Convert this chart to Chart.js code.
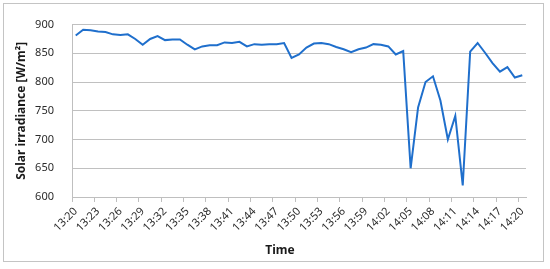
<!DOCTYPE html>
<html>
<head>
<meta charset="utf-8">
<script src="https://cdn.jsdelivr.net/npm/chart.js@4"></script>
<style>
  html, body { margin: 0; padding: 0; background: #fff; }
  #wrap { width: 550px; height: 269px; position: relative; }
</style>
</head>
<body>
<div id="wrap"><canvas id="myChart"></canvas></div>
<script>
// one reading per minute, 13:20 .. 14:20
const times = [
    '13:20','13:21','13:22','13:23','13:24','13:25','13:26','13:27','13:28','13:29',
    '13:30','13:31','13:32','13:33','13:34','13:35','13:36','13:37','13:38','13:39',
    '13:40','13:41','13:42','13:43','13:44','13:45','13:46','13:47','13:48','13:49',
    '13:50','13:51','13:52','13:53','13:54','13:55','13:56','13:57','13:58','13:59',
    '14:00','14:01','14:02','14:03','14:04','14:05','14:06','14:07','14:08','14:09',
    '14:10','14:11','14:12','14:13','14:14','14:15','14:16','14:17','14:18','14:19',
    '14:20'
];
const irradiance = [
    881, 891, 890, 888, 887, 883, 882, 883, 875, 865,
    875, 880, 873, 874, 874, 865, 857, 862, 864, 864,
    869, 868, 870, 862, 866, 865, 866, 866, 868, 842,
    848, 860, 867, 868, 866, 861, 857, 852, 857, 860,
    866, 865, 862, 848, 854, 650, 756, 800, 810, 768,
    700, 741, 620, 853, 868, 851, 833, 818, 826, 808,
    812
];
const yTicks = [600, 650, 700, 750, 800, 850, 900];
const labelEvery = 3;

const frameAndTitle = {
    id: 'frameAndTitle',
    beforeDraw(chart) {
        const ctx = chart.ctx;
        ctx.save();
        ctx.fillStyle = '#fff';
        ctx.fillRect(0, 0, chart.width, chart.height);
        ctx.strokeStyle = '#c4c4c4';
        ctx.lineWidth = 1;
        ctx.strokeRect(3.5, 3.5, 540, 258);
        ctx.restore();
    },
    afterDraw(chart) {
        const ctx = chart.ctx;
        ctx.save();
        ctx.fillStyle = '#1a1a1a';
        ctx.font = 'bold 12px "Noto Sans"';
        ctx.textAlign = 'center';
        ctx.textBaseline = 'middle';
        ctx.fillText('Time', 280, 251);
        ctx.restore();
    }
};

const data = {
    labels: times,
    datasets: [{
        label: 'Solar irradiance',
        data: irradiance,
        borderColor: '#1f6fcc',
        backgroundColor: '#1f6fcc',
        borderWidth: 2,
        pointRadius: 0,
        tension: 0,
        fill: false
    }]
};

const config = {
    type: 'line',
    data: data,
    options: {
        responsive: true,
        maintainAspectRatio: false,
        animation: false,
        layout: { padding: { left: 0, top: 24, right: 24, bottom: 0 } },
        plugins: {
            legend: { display: false },
            tooltip: { enabled: false }
        },
        scales: {
            x: {
                type: 'category',
                offset: true,
                afterFit: function(scale) { scale.height = 72; },
                border: { display: true, color: '#bfbfbf', width: 1 },
                grid: {
                    offset: true,
                    drawOnChartArea: false,
                    drawTicks: true,
                    tickLength: 5,
                    color: function(c) {
                        return (c.index % labelEvery === 0 && c.index < times.length) ? '#bfbfbf' : 'rgba(0,0,0,0)';
                    }
                },
                ticks: {
                    autoSkip: false,
                    minRotation: 45,
                    maxRotation: 45,
                    padding: 3,
                    color: '#2b2b2b',
                    font: { family: 'Noto Sans', size: 11 },
                    callback: function(val, i) {
                        return i % labelEvery === 0 ? times[i] : '';
                    }
                }
            },
            y: {
                min: 600,
                max: 900,
                afterFit: function(scale) { scale.width = 72; },
                afterBuildTicks: function(scale) {
                    scale.ticks = yTicks.map(v => ({ value: v }));
                },
                border: { display: true, color: '#bfbfbf', width: 1 },
                grid: { color: '#c0c0c0', lineWidth: 1, drawTicks: false },
                ticks: {
                    padding: 18,
                    color: '#2b2b2b',
                    font: { family: 'Noto Sans', size: 11 }
                },
                title: {
                    display: true,
                    text: 'Solar irradiance [W/m\u00b2]',
                    color: '#1a1a1a',
                    padding: { top: 14, bottom: 0 },
                    font: { family: 'Noto Sans', size: 12, weight: 'bold' }
                }
            }
        }
    },
    plugins: [frameAndTitle]
};

const myChart = new Chart(document.getElementById('myChart'), config);
</script>
</body>
</html>
